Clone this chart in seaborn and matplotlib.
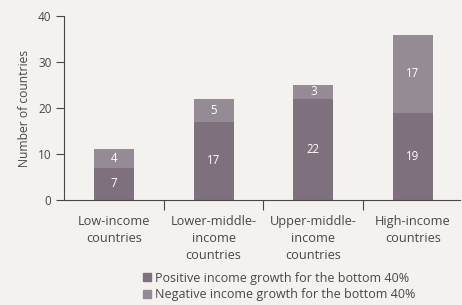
import matplotlib
matplotlib.use("Agg")
import matplotlib.pyplot as plt
import seaborn as sns
import pandas as pd
from matplotlib.patches import Patch

categories = ["Low-income\ncountries", "Lower-middle-\nincome\ncountries",
              "Upper-middle-\nincome\ncountries", "High-income\ncountries"]
positive = [7, 17, 22, 19]
negative = [4, 5, 3, 17]
series_names = ["Positive income growth for the bottom 40%",
                "Negative income growth for the bottom 40%"]
yticks = [0, 10, 20, 30, 40]

sns.set_style("ticks")
plt.rcParams['font.family'] = ['Open Sans', 'DejaVu Sans']

bg = "#f4f2ef"
txt = "#4a4548"
c_pos = "#7e707c"
c_neg = "#958b94"

fig = plt.figure(figsize=(4.62, 3.05), dpi=100, facecolor=bg)
ax = fig.add_axes([0.1385, 0.345, 0.857, 0.602])
ax.set_facecolor(bg)

df = pd.DataFrame({"cat": categories, "pos": positive, "neg": negative})
df["total"] = df["pos"] + df["neg"]

sns.barplot(data=df, x="cat", y="total", color=c_neg, width=0.4, ax=ax,
            saturation=1, linewidth=0)
sns.barplot(data=df, x="cat", y="pos", color=c_pos, width=0.4, ax=ax,
            saturation=1, linewidth=0)

for i, (p, n) in enumerate(zip(positive, negative)):
    ax.text(i, p / 2, str(p), ha="center", va="center", color="white", fontsize=8.3)
    ax.text(i, p + n / 2, str(n), ha="center", va="center", color="white", fontsize=8.3)

ax.set_ylim(0, 40)
ax.set_xlim(-0.5, 3.47)
ax.set_yticks(yticks)
ax.set_yticklabels([str(v) for v in yticks], color=txt, fontsize=8.5)
ax.set_ylabel("Number of countries", color=txt, fontsize=8.7, labelpad=5)
ax.set_xlabel("")
ax.tick_params(axis="y", length=6, color=txt, width=0.8, pad=3)
ax.set_xticks(range(len(categories)))
ax.set_xticklabels(categories, color=txt, fontsize=9.2, linespacing=1.42)
ax.tick_params(axis="x", which="major", length=0, pad=11)
ax.set_xticks([0.5, 1.5, 2.5], minor=True)
ax.tick_params(axis="x", which="minor", length=7, color=txt, width=0.8)

for s in ["top", "right"]:
    ax.spines[s].set_visible(False)
for s in ["left", "bottom"]:
    ax.spines[s].set_color(txt)
    ax.spines[s].set_linewidth(0.8)

handles = [Patch(color=c_pos), Patch(color=c_neg)]
fig.legend(handles, series_names, loc="upper left", bbox_to_anchor=(0.296, 0.13),
           frameon=False, fontsize=9, handlelength=0.6, handleheight=0.6,
           handletextpad=0.35, labelspacing=0.3, borderpad=0, labelcolor=txt)

fig.savefig("out.png", dpi=100, facecolor=bg)
